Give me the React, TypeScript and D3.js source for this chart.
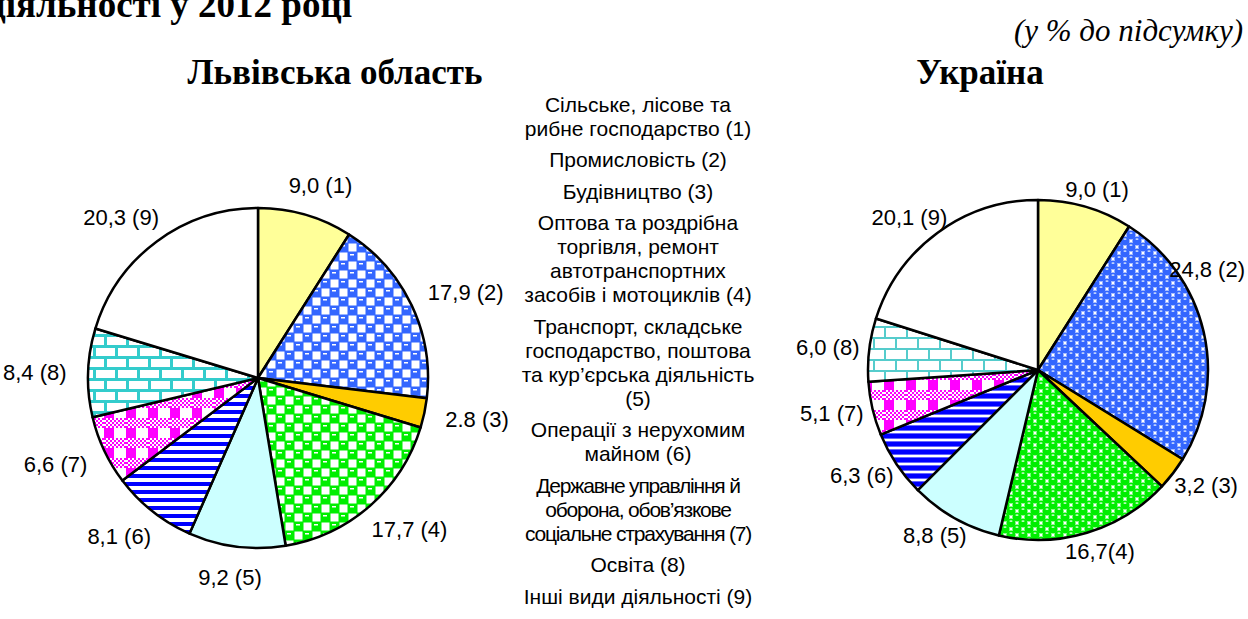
import React, { useEffect, useRef } from 'react';
import * as d3 from 'd3';

// legend text, one array of lines per sector
const legendLines = [
  ['Сільське, лісове та', 'рибне господарство (1)'],
  ['Промисловість (2)'],
  ['Будівництво (3)'],
  ['Оптова та роздрібна', 'торгівля, ремонт', 'автотранспортних', 'засобів і мотоциклів (4)'],
  ['Транспорт, складське', 'господарство, поштова', 'та кур’єрська діяльність', '(5)'],
  ['Операції з нерухомим', 'майном (6)'],
  ['Державне управління й', 'оборона, обов’язкове', 'соціальне страхування (7)'],
  ['Освіта (8)'],
  ['Інші види діяльності (9)'],
];

const lvivValues = [9.0, 17.9, 2.8, 17.7, 9.2, 8.1, 6.6, 8.4, 20.3];
const lvivLabels = ['9,0 (1)', '17,9 (2)', '2.8 (3)', '17,7 (4)', '9,2 (5)', '8,1 (6)', '6,6 (7)', '8,4 (8)', '20,3 (9)'];

const ukraineValues = [9.0, 24.8, 3.2, 16.7, 8.8, 6.3, 5.1, 6.0, 20.1];
const ukraineLabels = ['9,0 (1)', '24,8 (2)', '3,2 (3)', '16,7(4)', '8,8 (5)', '6,3 (6)', '5,1 (7)', '6,0 (8)', '20,1 (9)'];

const App = () => {
  const svgRef = useRef<SVGSVGElement>(null);

  useEffect(() => {
    const width = 1248;
    const height = 619;
    const radius = 170;
    const sans = '"Liberation Sans", Arial, sans-serif';
    const serif = '"Liberation Serif", "Times New Roman", serif';

    const svg = d3.select(svgRef.current);
    svg.selectAll('*').remove();
    svg.attr('width', width).attr('height', height).attr('viewBox', [0, 0, width, height]);

    svg.append('rect').attr('width', width).attr('height', height).attr('fill', '#fff');

    // Fill patterns
    const defs = svg.append('defs');
    const pattern = (id, w, h) => defs.append('pattern')
      .attr('id', id)
      .attr('patternUnits', 'userSpaceOnUse')
      .attr('width', w)
      .attr('height', h);

    // checker with white dashes (left pie)
    const checker = (id, color) => {
      const p = pattern(id, 18, 18);
      p.append('rect').attr('width', 18).attr('height', 18).attr('fill', color);
      p.append('rect').attr('x', 9.5).attr('y', 0.5).attr('width', 8).attr('height', 8).attr('fill', '#fff');
      p.append('rect').attr('x', 0.5).attr('y', 9.5).attr('width', 8).attr('height', 8).attr('fill', '#fff');
      p.append('rect').attr('x', 2).attr('y', 2).attr('width', 4).attr('height', 1.5).attr('fill', '#fff');
      p.append('rect').attr('x', 11).attr('y', 11).attr('width', 4).attr('height', 1.5).attr('fill', '#fff');
    };
    checker('p2L', '#3366ff');
    checker('p4L', '#00ee00');

    // spheres (right pie)
    const spheres = (id, color, light) => {
      const p = pattern(id, 12, 12);
      p.append('rect').attr('width', 12).attr('height', 12).attr('fill', '#fff');
      [[3, 3], [9, 9], [-3, 9], [9, -3], [15, 3], [3, 15]].forEach(([x, y]) => {
        p.append('circle').attr('cx', x).attr('cy', y).attr('r', 4.6).attr('fill', color);
        p.append('ellipse').attr('cx', x).attr('cy', y - 1.9).attr('rx', 1.6).attr('ry', 0.9).attr('fill', light);
      });
    };
    spheres('p2R', '#3366ff', '#ccddff');
    spheres('p4R', '#00ee00', '#ccffcc');

    // horizontal stripes
    const stripes = (id, soft) => {
      const p = pattern(id, 8, 8);
      p.append('rect').attr('width', 8).attr('height', 8).attr('fill', '#fff');
      p.append('rect').attr('y', 0).attr('width', 8).attr('height', 4).attr('fill', '#0000ff');
      if (soft) {
        p.append('rect').attr('y', 4).attr('width', 8).attr('height', 1).attr('fill', '#6666ff');
        p.append('rect').attr('y', 7).attr('width', 8).attr('height', 1).attr('fill', '#6666ff');
      }
    };
    stripes('p6L', false);
    stripes('p6R', true);

    // magenta plaid
    const plaid = (id) => {
      const p = pattern(id, 22, 20);
      p.append('rect').attr('width', 22).attr('height', 20).attr('fill', '#fff');
      for (let y = 0; y < 10; y += 2) {
        for (let x = 0; x < 22; x += 2) {
          if (((x + y) / 2) % 2 === 0) p.append('rect').attr('x', x).attr('y', y).attr('width', 2).attr('height', 2).attr('fill', '#ff00ff');
        }
      }
      p.append('rect').attr('x', 0).attr('y', 10).attr('width', 10).attr('height', 10).attr('fill', '#ff00ff');
    };
    plaid('p7L');
    plaid('p7R');

    // bricks
    const bricks = (id, color, t) => {
      const p = pattern(id, 22, 22);
      p.append('rect').attr('width', 22).attr('height', 22).attr('fill', '#fff');
      p.append('rect').attr('y', 0).attr('width', 22).attr('height', t).attr('fill', color);
      p.append('rect').attr('y', 11).attr('width', 22).attr('height', t).attr('fill', color);
      p.append('rect').attr('x', 0).attr('y', 0).attr('width', t).attr('height', 11).attr('fill', color);
      p.append('rect').attr('x', 11).attr('y', 11).attr('width', t).attr('height', 11).attr('fill', color);
    };
    bricks('p8L', '#33cccc', 3);
    bricks('p8R', '#55cccc', 2);

    const fillsL = ['#ffff99', 'url(#p2L)', '#ffcc00', 'url(#p4L)', '#ccffff', 'url(#p6L)', 'url(#p7L)', 'url(#p8L)', '#ffffff'];
    const fillsR = ['#ffff99', 'url(#p2R)', '#ffcc00', 'url(#p4R)', '#ccffff', 'url(#p6R)', 'url(#p7R)', 'url(#p8R)', '#ffffff'];

    const pie = d3.pie<number>().sort(null).value(d => d);
    const arc = d3.arc<d3.PieArcDatum<number>>().innerRadius(0).outerRadius(radius);

    const drawPie = (cx, cy, values, labels, fills, gap) => {
      const g = svg.append('g').attr('transform', `translate(${cx},${cy})`);
      const arcs = pie(values);

      g.selectAll('path')
        .data(arcs)
        .join('path')
        .attr('d', arc)
        .attr('fill', (d, i) => fills[i])
        .attr('stroke', '#000')
        .attr('stroke-width', 2.5)
        .attr('stroke-linejoin', 'round');

      // labels placed just outside the rim, kept inside the picture and off the pie
      arcs.forEach((a, i) => {
        const mid = (a.startAngle + a.endAngle) / 2;
        const s = Math.sin(mid);
        const c = Math.cos(mid);
        const t = svg.append('text')
          .attr('font-family', sans)
          .attr('font-size', 22)
          .attr('text-anchor', 'middle')
          .attr('fill', '#000')
          .text(labels[i]);
        const bb = (t.node() as SVGTextElement).getBBox();
        const hw = bb.width / 2;
        const hh = 9;
        let x = cx + (radius + gap) * s + s * hw;
        let y = cy - (radius + gap) * c - c * hh;
        x = Math.max(hw + 3, Math.min(width - hw - 3, x));
        const dir = y < cy ? -1 : 1;
        const clear = () => {
          const nx = Math.max(x - hw, Math.min(x + hw, cx));
          const ny = Math.max(y - hh, Math.min(y + hh, cy));
          return Math.hypot(nx - cx, ny - cy) >= radius - 10;
        };
        while (!clear()) y += dir;
        t.attr('x', x).attr('y', y + 8);
      });
    };

    drawPie(258, 378, lvivValues, lvivLabels, fillsL, 22);
    drawPie(1038, 370, ukraineValues, ukraineLabels, fillsR, 10);

    // titles
    svg.append('text')
      .attr('x', 352).attr('y', 17)
      .attr('text-anchor', 'end')
      .attr('font-family', serif).attr('font-weight', 'bold').attr('font-size', 37)
      .text('діяльності у 2012 році');

    svg.append('text')
      .attr('x', 1243).attr('y', 41)
      .attr('text-anchor', 'end')
      .attr('font-family', serif).attr('font-style', 'italic').attr('font-size', 31)
      .text('(у % до підсумку)');

    svg.append('text')
      .attr('x', 335).attr('y', 84)
      .attr('text-anchor', 'middle')
      .attr('font-family', serif).attr('font-weight', 'bold').attr('font-size', 35)
      .text('Львівська область');

    svg.append('text')
      .attr('x', 980).attr('y', 84)
      .attr('text-anchor', 'middle')
      .attr('font-family', serif).attr('font-weight', 'bold').attr('font-size', 35)
      .text('Україна');

    // legend in the middle
    const legend = svg.append('g').attr('font-family', sans).attr('font-size', 21).attr('text-anchor', 'middle');
    const lineStep = 24;
    const paraStep = 31.5;
    let y = 111.5;
    legendLines.forEach((lines, k) => {
      lines.forEach((line, j) => {
        legend.append('text')
          .attr('x', 638)
          .attr('y', y + j * lineStep)
          .attr('letter-spacing', k === 6 ? -1.2 : 0)
          .text(line);
      });
      y += (lines.length - 1) * lineStep + paraStep;
    });
  }, []);

  return (
    <svg ref={svgRef} style={{ position: 'absolute', left: 0, top: 0, display: 'block' }}></svg>
  );
};

export default App;
